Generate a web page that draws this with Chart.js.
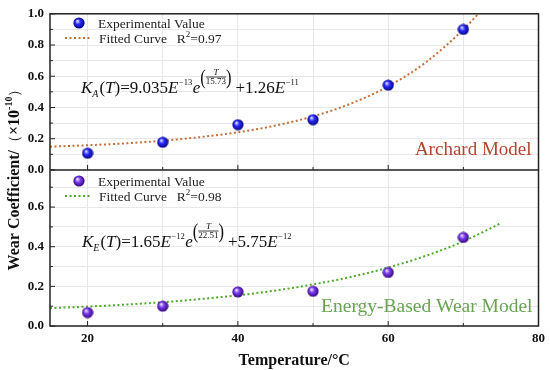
<!DOCTYPE html>
<html>
<head>
<meta charset="utf-8">
<script src="https://cdn.jsdelivr.net/npm/chart.js@4"></script>
<style>
  body { margin: 0; background: #fff; }
  canvas { display: block; }
</style>
</head>
<body>
<canvas id="chart" width="550" height="370"></canvas>
<script>
// values (wear coefficient in units of 1e-10)
const temps = [20, 30, 40, 50, 60, 70];
const archardExp = [0.107, 0.177, 0.29, 0.322, 0.543, 0.9];
const energyExp = [0.068, 0.10, 0.172, 0.175, 0.27, 0.447];

const archardFitT = [15, 20, 25, 30, 35, 40, 45, 50, 55, 60, 65, 70, 72];
const archardFit = [0.149, 0.158, 0.170, 0.187, 0.210, 0.241, 0.284, 0.343, 0.424, 0.535, 0.689, 0.899, 1.0];
const energyFitT = [15, 20, 25, 30, 35, 40, 45, 50, 55, 60, 65, 70, 75];
const energyFit = [0.090, 0.098, 0.108, 0.120, 0.136, 0.155, 0.179, 0.210, 0.247, 0.295, 0.354, 0.427, 0.519];

const xTicks = [20, 30, 40, 50, 60, 70, 80];
const yTopTicks = [0, 0.1, 0.2, 0.3, 0.4, 0.5, 0.6, 0.7, 0.8, 0.9, 1.0];
const yBotTicks = [0, 0.1, 0.2, 0.3, 0.4, 0.5, 0.6, 0.7];

const SERIF = "'Liberation Serif', 'Times New Roman', serif";
const archardColor = '#c0703a';
const energyColor = '#4fa82c';

function ball(light, mid, dark) {
  const c = document.createElement('canvas');
  c.width = c.height = 12;
  const g = c.getContext('2d');
  const grad = g.createRadialGradient(4.3, 4, 0.4, 6, 6, 6);
  grad.addColorStop(0, light);
  grad.addColorStop(0.4, mid);
  grad.addColorStop(1, dark);
  g.fillStyle = grad;
  g.beginPath();
  g.arc(6, 6, 5.6, 0, Math.PI * 2);
  g.fill();
  return c;
}
const blueBall = ball('#dcdcff', '#2a2aff', '#00006e');
const purpleBall = ball('#eadcff', '#7a3cf0', '#2e0070');

const pts = (xs, ys) => xs.map((x, i) => ({ x: x, y: ys[i] }));

// draw a sequence of text pieces, each with its own font and vertical shift
function runs(ctx, x, y, list) {
  for (const r of list) {
    ctx.font = r.f;
    ctx.fillText(r.t, x, y + (r.dy || 0));
    x += ctx.measureText(r.t).width + (r.sp || 0);
  }
  return x;
}

// tall, narrow parenthesis
function paren(ctx, ch, x, y) {
  ctx.save();
  ctx.translate(x, y);
  ctx.scale(0.75, 1);
  ctx.font = '22px ' + SERIF;
  ctx.fillText(ch, 0, 0);
  const w = ctx.measureText(ch).width * 0.75;
  ctx.restore();
  return w;
}

// (T / den) exponent
function expFrac(ctx, x, y, den) {
  x += paren(ctx, '(', x, y - 9);
  ctx.font = '9px ' + SERIF;
  const w = ctx.measureText(den).width;
  ctx.textAlign = 'center';
  ctx.fillText(den, x + w / 2, y - 9);
  ctx.font = 'italic 9px ' + SERIF;
  ctx.fillText('T', x + w / 2, y - 18.5);
  ctx.textAlign = 'left';
  ctx.lineWidth = 0.8;
  ctx.beginPath();
  ctx.moveTo(x, y - 16);
  ctx.lineTo(x + w, y - 16);
  ctx.stroke();
  x += w;
  x += paren(ctx, ')', x, y - 9);
  return x;
}

function legendBlock(ctx, y, img, color, r2) {
  ctx.drawImage(img, 73, y - 6);
  ctx.fillStyle = '#222';
  ctx.font = '13.5px ' + SERIF;
  ctx.fillText('Experimental Value', 98, y + 5);
  ctx.save();
  ctx.strokeStyle = color;
  ctx.lineWidth = 2;
  ctx.setLineDash([2, 2.5]);
  ctx.beginPath();
  ctx.moveTo(65, y + 15);
  ctx.lineTo(92, y + 15);
  ctx.stroke();
  ctx.restore();
  let x = runs(ctx, 99, y + 20, [{ t: 'Fitted Curve', f: '13.5px ' + SERIF, sp: 10 }]);
  runs(ctx, x, y + 20, [
    { t: 'R', f: '13.5px ' + SERIF },
    { t: '2', f: '9px ' + SERIF, dy: -6 },
    { t: '=' + r2, f: '13.5px ' + SERIF }
  ]);
}

function equation(ctx, x, y, sub, coef, pw1, den, add, pw2) {
  const big = '17px ' + SERIF, ibig = 'italic 17px ' + SERIF, sup = '8.5px ' + SERIF;
  x = runs(ctx, x, y, [
    { t: 'K', f: ibig },
    { t: sub, f: 'italic 10px ' + SERIF, dy: 4, sp: 1 },
    { t: '(', f: big }, { t: 'T', f: ibig }, { t: ')=' + coef, f: big },
    { t: 'E', f: ibig, sp: 0.5 },
    { t: pw1, f: sup, dy: -8, sp: 0.5 },
    { t: 'e', f: ibig }
  ]);
  x = expFrac(ctx, x, y, den);
  runs(ctx, x + 4, y, [
    { t: '+' + add, f: big }, { t: 'E', f: ibig, sp: 0.5 },
    { t: pw2, f: sup, dy: -8 }
  ]);
}

const extras = {
  id: 'extras',
  afterDraw(chart) {
    const ctx = chart.ctx;
    const area = chart.chartArea;
    const xs = chart.scales.x, ya = chart.scales.yA, ye = chart.scales.yE;
    ctx.save();

    // inward tick marks
    ctx.strokeStyle = '#222';
    ctx.lineWidth = 1;
    ctx.beginPath();
    for (const v of xTicks) {
      const px = xs.getPixelForValue(v);
      const len = v % 20 === 0 ? 5 : 3;
      ctx.moveTo(px, ya.bottom); ctx.lineTo(px, ya.bottom - len);
      ctx.moveTo(px, ye.bottom); ctx.lineTo(px, ye.bottom - len);
    }
    for (const v of yTopTicks) {
      const py = ya.getPixelForValue(v);
      ctx.moveTo(area.left, py); ctx.lineTo(area.left + (Math.round(v * 10) % 2 === 0 ? 5 : 3), py);
    }
    for (const v of yBotTicks) {
      const py = ye.getPixelForValue(v);
      ctx.moveTo(area.left, py); ctx.lineTo(area.left + (Math.round(v * 10) % 2 === 0 ? 5 : 3), py);
    }
    ctx.stroke();

    // frame and panel divider
    ctx.lineWidth = 1.5;
    ctx.strokeStyle = '#222';
    ctx.strokeRect(area.left, area.top, area.right - area.left, area.bottom - area.top);
    ctx.beginPath();
    ctx.moveTo(area.left, ya.bottom);
    ctx.lineTo(area.right, ya.bottom);
    ctx.stroke();

    ctx.textBaseline = 'alphabetic';
    ctx.textAlign = 'left';

    legendBlock(ctx, 23, blueBall, archardColor, '0.97');
    legendBlock(ctx, 181, purpleBall, energyColor, '0.98');

    // fitted equations
    ctx.fillStyle = '#111';
    ctx.strokeStyle = '#111';
    equation(ctx, 81, 93, 'A', '9.035', '\u221213', '15.73', '1.26', '\u221211');
    equation(ctx, 82, 247, 'E', '1.65', '\u221212', '22.51', '5.75', '\u221212');

    // model names
    ctx.textAlign = 'right';
    ctx.font = '19px ' + SERIF;
    ctx.fillStyle = '#b4432e';
    ctx.fillText('Archard Model', area.right - 7, ya.bottom - 15);
    ctx.font = '19.5px ' + SERIF;
    ctx.fillStyle = '#68a452';
    ctx.fillText('Energy-Based Wear Model', area.right - 6, ye.bottom - 14);

    // shared y title
    ctx.translate(14, 176);
    ctx.rotate(-Math.PI / 2);
    ctx.textAlign = 'left';
    ctx.fillStyle = '#111';
    const bf = 'bold 16px ' + SERIF;
    const parts = [
      { t: 'Wear Coefficient/', f: bf },
      { t: '\uFF08', f: '15px ' + SERIF },
      { t: '\u00D710', f: bf },
      { t: '-10', f: 'bold 10px ' + SERIF, dy: -7 },
      { t: '\uFF09', f: '15px ' + SERIF }
    ];
    let total = 0;
    for (const p of parts) { ctx.font = p.f; total += ctx.measureText(p.t).width; }
    runs(ctx, -total / 2, 5, parts);

    ctx.restore();
  }
};

const yTickOpts = {
  padding: 6, color: '#111', autoSkip: false,
  font: { family: SERIF, size: 13, weight: 'bold' },
  callback: v => (Math.round(v * 10) % 2 === 0 ? v.toFixed(1) : '')
};

new Chart(document.getElementById('chart'), {
  type: 'scatter',
  data: {
    datasets: [
      { data: pts(archardFitT, archardFit), yAxisID: 'yA', showLine: true, pointRadius: 0,
        borderColor: archardColor, borderWidth: 2, borderDash: [2, 2.5], tension: 0.4,
        cubicInterpolationMode: 'monotone', order: 2 },
      { data: pts(temps, archardExp), yAxisID: 'yA', pointStyle: blueBall, order: 1 },
      { data: pts(energyFitT, energyFit), yAxisID: 'yE', showLine: true, pointRadius: 0,
        borderColor: energyColor, borderWidth: 2, borderDash: [2, 2.5], tension: 0.4,
        cubicInterpolationMode: 'monotone', order: 2 },
      { data: pts(temps, energyExp), yAxisID: 'yE', pointStyle: purpleBall, order: 1 }
    ]
  },
  options: {
    responsive: false,
    animation: false,
    devicePixelRatio: 1,
    layout: { padding: { top: 11, right: 11, left: 0, bottom: 0 } },
    plugins: { legend: { display: false }, tooltip: { enabled: false } },
    scales: {
      // in a left stack the first scale listed ends up lowest
      yE: {
        type: 'linear', position: 'left', stack: 'panels', stackWeight: 1,
        min: 0, max: 0.7875,
        afterBuildTicks: s => { s.ticks = yBotTicks.map(v => ({ value: v })); },
        afterFit: s => { s.width = 50; },
        grid: { color: '#e8e8e8', drawTicks: false },
        border: { display: false },
        ticks: yTickOpts
      },
      yA: {
        type: 'linear', position: 'left', stack: 'panels', stackWeight: 1,
        min: 0, max: 1.0,
        afterBuildTicks: s => { s.ticks = yTopTicks.map(v => ({ value: v })); },
        afterFit: s => { s.width = 50; },
        grid: { color: '#e8e8e8', drawTicks: false },
        border: { display: false },
        ticks: yTickOpts
      },
      x: {
        type: 'linear', position: 'bottom', min: 15, max: 80,
        afterBuildTicks: s => { s.ticks = xTicks.map(v => ({ value: v })); },
        afterFit: s => { s.height = 44; },
        grid: { color: '#e8e8e8', drawTicks: false },
        border: { display: false },
        ticks: {
          padding: 5, color: '#111', maxRotation: 0, autoSkip: false,
          font: { family: SERIF, size: 13, weight: 'bold' },
          callback: v => (v % 20 === 0 ? String(v) : '')
        },
        title: {
          display: true, text: 'Temperature/\u00B0C', color: '#111',
          font: { family: SERIF, size: 16, weight: 'bold' },
          padding: { top: 4, bottom: 0 }
        }
      }
    }
  },
  plugins: [extras]
});
</script>
</body>
</html>
